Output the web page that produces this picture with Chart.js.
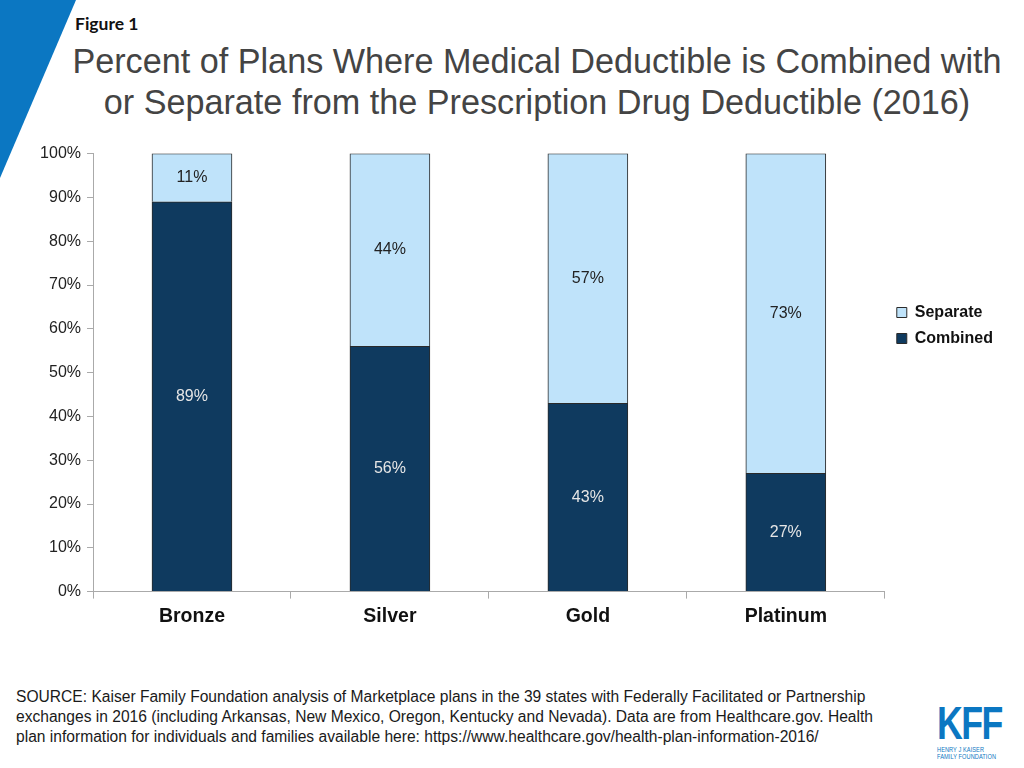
<!DOCTYPE html>
<html>
<head>
<meta charset="utf-8">
<script src="https://cdn.jsdelivr.net/npm/chart.js@4/dist/chart.umd.min.js"></script>
<style>
  body { margin: 0; width: 1024px; height: 768px; background: #fff; position: relative; overflow: hidden; font-family: "Liberation Sans", Arial, sans-serif; }
  .corner { position: absolute; left: 0; top: 0; width: 80px; height: 180px; background: #0b77c2; clip-path: polygon(0 0, 76px 0, 0 178px); }
  .fig { position: absolute; left: 75px; top: 13px; font-family: Lato, "Open Sans", sans-serif; font-weight: bold; font-size: 17.5px; color: #111; }
  .title { position: absolute; left: 20px; width: 1034px; top: 41px; text-align: center; font-size: 34.2px; line-height: 41px; color: #444; }
  .chart { position: absolute; left: 21px; top: 138px; width: 990px; height: 496px; }
  .source { position: absolute; left: 16px; top: 687px; width: 872px; font-size: 15.6px; line-height: 20px; color: #1a1a1a; }
  .logo { position: absolute; left: 937px; top: 700px; color: #0b77c2; transform: scaleX(0.76); transform-origin: left top; }
  .logo .big { font-size: 47px; font-weight: bold; letter-spacing: -2px; line-height: 46px; }
  .logo .small { font-size: 7.4px; line-height: 7px; letter-spacing: 0.1px; }
</style>
</head>
<body>
<div class="corner"></div>
<div class="fig">Figure 1</div>
<div class="title">Percent of Plans Where Medical Deductible is Combined with<br>or Separate from the Prescription Drug Deductible (2016)</div>
<div class="chart"><canvas id="c"></canvas></div>
<div class="source">SOURCE: Kaiser Family Foundation analysis of Marketplace plans in the 39 states with Federally Facilitated or Partnership exchanges in 2016 (including Arkansas, New Mexico, Oregon, Kentucky and Nevada). Data are from Healthcare.gov. Health plan information for individuals and families available here: https://www.healthcare.gov/health-plan-information-2016/</div>
<div class="logo"><div class="big">KFF</div><div class="small">HENRY J KAISER<br>FAMILY FOUNDATION</div></div>
<script>
const categories = ['Bronze', 'Silver', 'Gold', 'Platinum'];
const combined = [89, 56, 43, 27];
const separate = [11, 44, 57, 73];
const yTicks = [0, 10, 20, 30, 40, 50, 60, 70, 80, 90, 100];

// draws the percent in the middle of every segment
const segmentLabels = {
    id: 'segmentLabels',
    afterDatasetsDraw(chart) {
        const ctx = chart.ctx;
        ctx.save();
        ctx.font = '16px "Liberation Sans", Arial, sans-serif';
        ctx.textAlign = 'center';
        ctx.textBaseline = 'middle';
        chart.data.datasets.forEach((ds, i) => {
            chart.getDatasetMeta(i).data.forEach((bar, j) => {
                const p = bar.getProps(['x', 'y', 'base'], true);
                ctx.fillStyle = ds.labelColor;
                ctx.fillText(ds.data[j] + '%', p.x, (p.y + p.base) / 2);
            });
        });
        ctx.restore();
    }
};

// legend sits a bit above the middle of the plot
const liftLegend = {
    id: 'liftLegend',
    afterLayout(chart) {
        const lg = chart.legend;
        if (lg) { lg.top -= 61; lg.bottom -= 61; lg.left += 2; lg.right += 2; }
    }
};

new Chart(document.getElementById('c'), {
    type: 'bar',
    data: {
        labels: categories,
        datasets: [{
            label: 'Combined',
            data: combined,
            backgroundColor: '#0f3a5f',
            borderColor: '#2a2a2a',
            borderWidth: 1,
            labelColor: '#e6e6e6'
        }, {
            label: 'Separate',
            data: separate,
            backgroundColor: '#bfe3fa',
            borderColor: '#2a2a2a',
            borderWidth: 1,
            labelColor: '#222'
        }]
    },
    plugins: [segmentLabels, liftLegend],
    options: {
        responsive: true,
        maintainAspectRatio: false,
        animation: false,
        layout: { padding: { top: 1, right: 10 } },
        datasets: { bar: { barThickness: 80 } },
        plugins: {
            tooltip: { enabled: false },
            legend: {
                position: 'right',
                reverse: true,
                labels: {
                    boxWidth: 10,
                    boxHeight: 10,
                    padding: 10,
                    color: '#111',
                    font: { family: '"Liberation Sans", Arial, sans-serif', size: 16, weight: 'bold' }
                }
            }
        },
        scales: {
            x: {
                stacked: true,
                offset: true,
                grid: { offset: true, drawOnChartArea: false, color: '#aaa', tickLength: 7 },
                border: { color: '#aaa' },
                ticks: { color: '#111', padding: 6, font: { family: '"Liberation Sans", Arial, sans-serif', size: 19.5, weight: 'bold' } }
            },
            y: {
                stacked: true,
                min: 0,
                max: 100,
                afterBuildTicks: axis => { axis.ticks = yTicks.map(v => ({ value: v })); },
                afterFit: axis => { axis.width = 72; },
                grid: { drawOnChartArea: false, color: '#aaa', tickLength: 6 },
                border: { color: '#aaa' },
                ticks: {
                    color: '#222',
                    padding: 6,
                    font: { family: '"Liberation Sans", Arial, sans-serif', size: 16 },
                    callback: v => v + '%'
                }
            }
        }
    }
});
</script>
</body>
</html>
